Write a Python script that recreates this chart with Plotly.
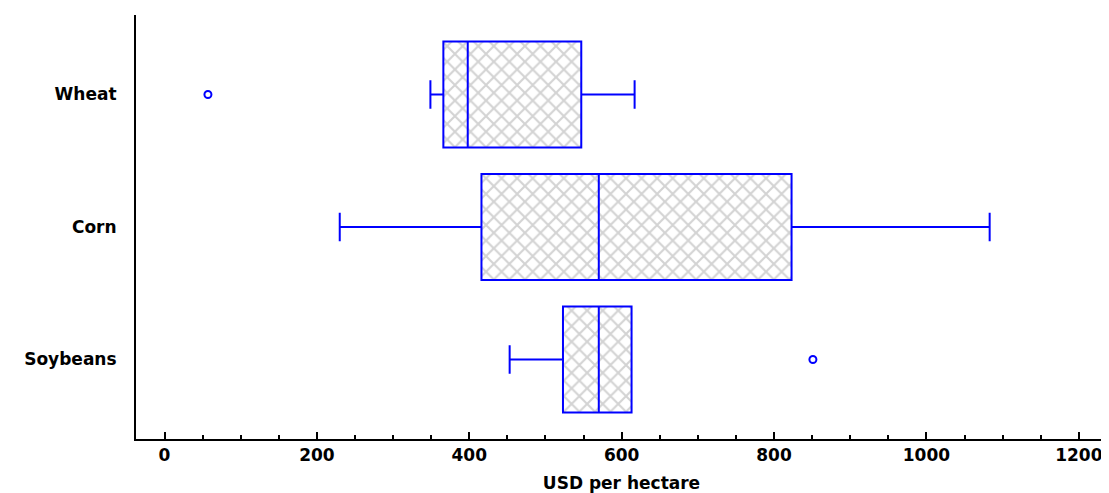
import plotly.graph_objects as go

categories = ["Wheat", "Corn", "Soybeans"]
lower_whisker = [349, 230, 453]
q1 = [366, 416, 523]
median = [398, 570, 570]
q3 = [547, 823, 613]
upper_whisker = [617, 1083, 613]
outlier_cats = ["Wheat", "Soybeans"]
outlier_vals = [57, 851]
x_ticks = [0, 200, 400, 600, 800, 1000, 1200]

BLUE = "#0000FF"
FONT = dict(family="DejaVu Sans", size=17, color="black", weight="bold")

fig = go.Figure()

# hatched fill of the boxes
fig.add_trace(go.Bar(
    y=categories,
    x=[b - a for a, b in zip(q1, q3)],
    base=q1,
    orientation="h",
    width=0.8,
    marker=dict(
        color="white",
        line=dict(width=0),
        pattern=dict(shape="x", fgcolor="#a8a8a8", bgcolor="white", size=11, solidity=0.35),
    ),
    hoverinfo="skip",
    showlegend=False,
))

fig.add_trace(go.Box(
    y=categories,
    q1=q1,
    median=median,
    q3=q3,
    lowerfence=lower_whisker,
    upperfence=upper_whisker,
    orientation="h",
    width=0.8,
    whiskerwidth=0.27,
    boxpoints=False,
    fillcolor="rgba(0,0,0,0)",
    line=dict(color=BLUE, width=2),
    showlegend=False,
))

fig.add_trace(go.Scatter(
    x=outlier_vals,
    y=outlier_cats,
    mode="markers",
    marker=dict(symbol="circle-open", size=7, color=BLUE, line=dict(width=2, color=BLUE)),
    showlegend=False,
))

fig.update_layout(
    width=1101,
    height=485,
    margin=dict(l=128, r=2, t=7, b=54),
    paper_bgcolor="white",
    plot_bgcolor="white",
    font=FONT,
    bargap=0.2,
)

fig.update_xaxes(
    range=[-37.4, 1237],
    tickvals=x_ticks,
    ticktext=[str(v) for v in x_ticks],
    ticks="inside",
    ticklen=7,
    tickwidth=2,
    tickcolor="black",
    minor=dict(dtick=50, tick0=0, ticks="inside", ticklen=4, tickwidth=2, tickcolor="black"),
    showline=True,
    linewidth=2,
    linecolor="black",
    showgrid=False,
    zeroline=False,
    tickfont=FONT,
    title=dict(text="USD per hectare", font=FONT, standoff=25),
    automargin=False,
)

fig.update_yaxes(
    categoryorder="array",
    categoryarray=["Soybeans", "Corn", "Wheat"],
    range=[-0.6, 2.6],
    showline=True,
    linewidth=2,
    linecolor="black",
    ticks="",
    showgrid=False,
    zeroline=False,
    tickfont=FONT,
    ticklabelstandoff=14,
    automargin=False,
)

fig.write_html("out.html")
